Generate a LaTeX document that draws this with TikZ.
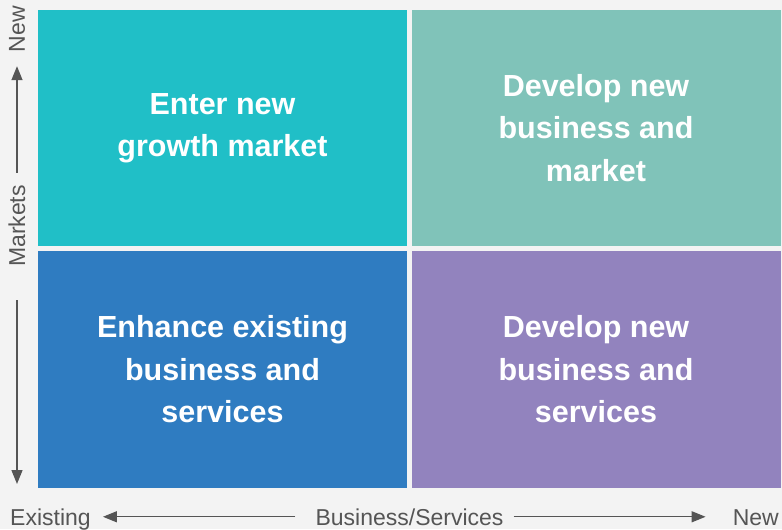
\documentclass[tikz,border=0pt]{standalone}
\usepackage{fontspec}
\setmainfont{Liberation Sans}
\usepackage{xcolor}
\usepackage{tikz}
\usetikzlibrary{positioning, arrows.meta}

\definecolor{paper}{HTML}{F3F3F3}
\definecolor{quadtl}{HTML}{20BFC7}
\definecolor{quadtr}{HTML}{80C3B9}
\definecolor{quadbl}{HTML}{2F7CC1}
\definecolor{quadbr}{HTML}{9283BE}
\definecolor{axisgrey}{HTML}{555555}

\begin{document}
\begin{tikzpicture}[x=1pt,y=-1pt,
    quad/.style={rectangle,minimum width=369pt,minimum height=236pt,inner sep=0pt,
        text=white,align=center,font=\bfseries\fontsize{30.5}{42.5}\selectfont},
    axislabel/.style={text=axisgrey,inner sep=0pt,font=\fontsize{23}{25}\selectfont},
    axisarrow/.style={-{Triangle[length=14pt,width=11pt]},draw=axisgrey,line width=1.4pt}]
    \fill[paper] (0,0) rectangle (782,529);

    % the four quadrants
    \node[quad,fill=quadtl] (entermkt) at (222.5,128) {Enter new\\growth market};
    \node[quad,fill=quadtr] (devbizmkt) at (596,128) {Develop new\\business and\\market};
    \node[quad,fill=quadbl] (enhancebiz) at (222.5,369.5) {Enhance existing\\business and\\services};
    \node[quad,fill=quadbr] (devbizsvc) at (596,369.5) {Develop new\\business and\\services};

    % axes
    \node[axislabel,rotate=90] (mktnew) at (17,29) {New};
    \node[axislabel,rotate=90] (markets) at (17,226) {Markets};
    \coordinate (mktexist) at (17,484);
    \node[axislabel,anchor=base west] (bizexist) at (10,525) {Existing};
    \node[axislabel,anchor=base] (bizsvc) at (409.5,525) {Business/Services};
    \node[axislabel,anchor=base east] (biznew) at (779,525) {New};

    \draw[axisarrow,shorten <=12pt,shorten >=14pt] (markets.east) -- (mktnew.west);
    \draw[axisarrow,shorten <=33pt] (markets.west) -- (mktexist);
    \draw[axisarrow,shorten <=20pt,shorten >=12pt] (bizsvc.west) -- (bizsvc.west -| bizexist.east);
    \draw[axisarrow,shorten <=10pt,shorten >=27pt] (bizsvc.east) -- (bizsvc.east -| biznew.west);
\end{tikzpicture}
\end{document}
